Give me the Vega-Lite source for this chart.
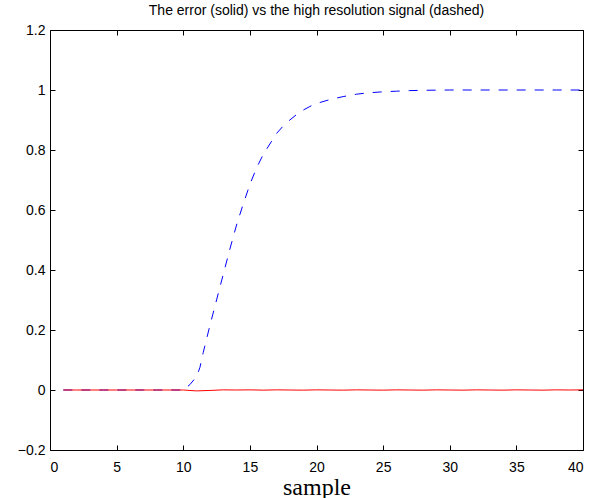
{
  "$schema": "https://vega.github.io/schema/vega-lite/v6.json",
  "width": 533,
  "height": 420,
  "autosize": "none",
  "padding": {"left": 50, "top": 30, "right": 25, "bottom": 48},
  "background": "white",
  "title": {"text": "The error (solid) vs the high resolution signal (dashed)", "font": "Liberation Sans", "fontSize": 14, "fontWeight": "normal", "color": "black", "offset": 5, "anchor": "middle"},
  "config": {
    "view": {"stroke": null},
    "axis": {"grid": false, "domainColor": "black", "tickColor": "black", "labelColor": "black", "labelFont": "Liberation Sans", "labelFontSize": 14, "tickSize": -5, "domainWidth": 1, "tickWidth": 1, "format": "~g"}
  },
  "datasets": {
    "signal": [
      {"x": 1, "y": 0}, {"x": 2, "y": 0}, {"x": 3, "y": 0}, {"x": 4, "y": 0}, {"x": 5, "y": 0},
      {"x": 6, "y": 0}, {"x": 7, "y": 0}, {"x": 8, "y": 0}, {"x": 9, "y": 0}, {"x": 10, "y": 0},
      {"x": 10.5, "y": 0.018}, {"x": 11, "y": 0.045}, {"x": 11.25, "y": 0.075}, {"x": 11.5, "y": 0.125},
      {"x": 12, "y": 0.215}, {"x": 12.5, "y": 0.3}, {"x": 13, "y": 0.385}, {"x": 13.5, "y": 0.47},
      {"x": 14, "y": 0.55}, {"x": 14.5, "y": 0.62}, {"x": 15, "y": 0.685}, {"x": 15.5, "y": 0.74},
      {"x": 16, "y": 0.785}, {"x": 16.5, "y": 0.82}, {"x": 17, "y": 0.855}, {"x": 17.5, "y": 0.88},
      {"x": 18, "y": 0.9}, {"x": 18.5, "y": 0.918}, {"x": 19, "y": 0.933}, {"x": 19.5, "y": 0.945},
      {"x": 20, "y": 0.955}, {"x": 21, "y": 0.968}, {"x": 22, "y": 0.978}, {"x": 23, "y": 0.986},
      {"x": 24, "y": 0.991}, {"x": 25, "y": 0.994}, {"x": 26, "y": 0.996}, {"x": 27, "y": 0.998},
      {"x": 28, "y": 0.999}, {"x": 30, "y": 1}, {"x": 32, "y": 1}, {"x": 34, "y": 1},
      {"x": 36, "y": 1}, {"x": 38, "y": 1}, {"x": 40, "y": 1}
    ],
    "error": [
      {"x": 1, "y": 0}, {"x": 2, "y": 0}, {"x": 3, "y": 0}, {"x": 4, "y": 0}, {"x": 5, "y": 0},
      {"x": 6, "y": 0}, {"x": 7, "y": 0}, {"x": 8, "y": 0}, {"x": 9, "y": 0}, {"x": 10, "y": 0},
      {"x": 11, "y": -0.003}, {"x": 12, "y": -0.0015}, {"x": 13, "y": 0.0005}, {"x": 14, "y": 0},
      {"x": 15, "y": 0.0005}, {"x": 16, "y": -0.0005}, {"x": 17, "y": 0.0005}, {"x": 18, "y": 0},
      {"x": 19, "y": -0.0005}, {"x": 20, "y": 0.0005}, {"x": 21, "y": 0}, {"x": 22, "y": -0.0005},
      {"x": 23, "y": 0.0005}, {"x": 24, "y": 0}, {"x": 25, "y": -0.0005}, {"x": 26, "y": 0.0005},
      {"x": 27, "y": 0}, {"x": 28, "y": -0.0005}, {"x": 29, "y": 0.0005}, {"x": 30, "y": 0},
      {"x": 31, "y": -0.0005}, {"x": 32, "y": 0.0005}, {"x": 33, "y": 0}, {"x": 34, "y": -0.0005},
      {"x": 35, "y": 0.0005}, {"x": 36, "y": 0}, {"x": 37, "y": -0.0005}, {"x": 38, "y": 0.0005},
      {"x": 39, "y": 0}, {"x": 40, "y": 0.0005}
    ]
  },
  "layer": [
    {
      "data": {"name": "signal"},
      "mark": {"type": "line", "color": "#0000ff", "strokeWidth": 1, "strokeDash": [9, 9]},
      "encoding": {
        "x": {"field": "x", "type": "quantitative", "scale": {"domain": [0, 40], "nice": false, "zero": false},
              "axis": {"orient": "bottom", "values": [0, 5, 10, 15, 20, 25, 30, 35, 40], "labelPadding": 15,
                       "title": "sample", "titleFont": "Liberation Serif", "titleFontSize": 24, "titleFontWeight": "normal", "titleColor": "black", "titlePadding": 1}},
        "y": {"field": "y", "type": "quantitative", "scale": {"domain": [-0.2, 1.2], "nice": false, "zero": false},
              "axis": {"orient": "left", "values": [-0.2, 0, 0.2, 0.4, 0.6, 0.8, 1, 1.2], "labelPadding": 10, "title": null}}
      }
    },
    {
      "data": {"name": "error"},
      "mark": {"type": "line", "color": "#ff0000", "strokeWidth": 1},
      "encoding": {
        "x": {"field": "x", "type": "quantitative", "axis": null},
        "y": {"field": "y", "type": "quantitative", "axis": null}
      }
    },
    {
      "data": {"name": "error"},
      "mark": {"type": "line", "opacity": 0},
      "encoding": {
        "x": {"field": "x", "type": "quantitative",
              "axis": {"orient": "top", "values": [0, 5, 10, 15, 20, 25, 30, 35, 40], "labels": false, "title": null}},
        "y": {"field": "y", "type": "quantitative",
              "axis": {"orient": "right", "values": [-0.2, 0, 0.2, 0.4, 0.6, 0.8, 1, 1.2], "labels": false, "title": null}}
      }
    }
  ],
  "resolve": {"axis": {"x": "independent", "y": "independent"}}
}
